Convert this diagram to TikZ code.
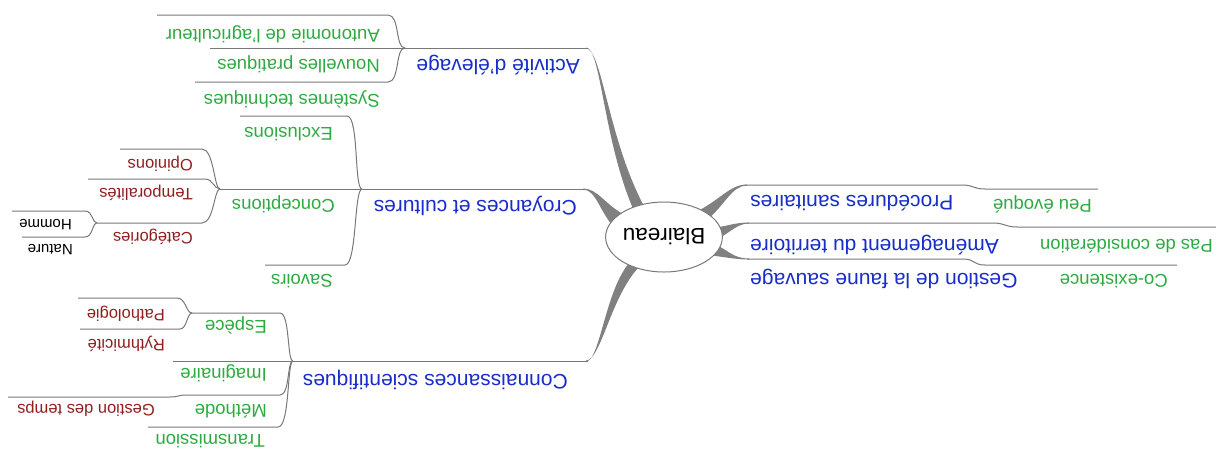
\documentclass[tikz,border=0pt]{standalone}
\usepackage{fontspec}
\setmainfont{Liberation Sans}
\usetikzlibrary{shapes.geometric}
\definecolor{lvA}{RGB}{25,45,200}
\definecolor{lvB}{RGB}{45,170,65}
\definecolor{lvC}{RGB}{145,30,30}
\definecolor{lnc}{RGB}{120,120,120}
\definecolor{tpc}{RGB}{128,128,128}
\begin{document}
\begin{tikzpicture}[x=1pt,y=-1pt,
  ln/.style={draw=lnc, line width=1pt},
  tp/.style={fill=tpc, draw=none},
  tx/.style={inner sep=0pt, rotate=180},
  tA/.style={tx, text=lvA, font=\fontsize{21}{24}\selectfont},
  tB/.style={tx, text=lvB, font=\fontsize{18.5}{22}\selectfont},
  tC/.style={tx, text=lvC, font=\fontsize{16.5}{20}\selectfont},
  tD/.style={tx, text=black, font=\fontsize{15}{18}\selectfont},
  atR/.style={anchor=mid west},
  atL/.style={anchor=mid east},
]
\useasboundingbox (0,0) rectangle (1216,451);

% junctions and taper starts
\coordinate (jA) at (405,48);
\coordinate (jC) at (362,189);
\coordinate (jCo) at (220,189);
\coordinate (jCa) at (97,223);
\coordinate (jK) at (293,361);
\coordinate (jE) at (192,313);
\coordinate (jM) at (185,395);
\coordinate (sA) at (588,48);
\coordinate (sC) at (585,189);
\coordinate (sK) at (588,361);
\coordinate (sP) at (745,185);
\coordinate (sM) at (747,223);
\coordinate (sG) at (747,259);

% tapers
\fill[tp] (586,47.5) .. controls (601,47.5) and (603,140) .. (634,211) -- (645,208) .. controls (608,140) and (602,48.5) .. (586,48.5) -- cycle;
\fill[tp] (583,188.5) .. controls (598,188.5) and (605,205) .. (625,215) -- (617,230) .. controls (600,215) and (597,189.5) .. (583,189.5) -- cycle;
\fill[tp] (586,361.5) .. controls (600,361.5) and (605,290) .. (630,262) -- (640,266) .. controls (611,295) and (601,360.5) .. (586,360.5) -- cycle;
\fill[tp] (747,184.5) .. controls (730,184.5) and (720,200) .. (696,212) -- (706,221) .. controls (725,205) and (732,185.5) .. (747,185.5) -- cycle;
\fill[tp] (749,222.5) .. controls (735,222.5) and (728,226) .. (713,228) -- (712,241) .. controls (728,236) and (735,223.5) .. (749,223.5) -- cycle;
\fill[tp] (749,258.5) .. controls (733,258.5) and (728,250) .. (713,243) -- (707,255) .. controls (726,257) and (735,259.5) .. (749,259.5) -- cycle;

\node[ellipse, draw=lnc, fill=white, line width=1pt, minimum width=106pt, minimum height=70pt, inner sep=0pt, rotate=180, font=\fontsize{22.5}{26}\selectfont] (root) at (664,237) {Blaireau};

% level 1
\node[tA, atR] (act) at (580,62) {Activité d'élevage};
\node[tA, atR] (cro) at (577,203) {Croyances et cultures};
\node[tA, atR] (con) at (568,377) {Connaissances scientifiques};
\node[tA, atL] (pro) at (750,198) {Procédures sanitaires};
\node[tA, atL] (ame) at (750,242) {Aménagement du territoire};
\node[tA, atL] (ges) at (750,276) {Gestion de la faune sauvage};

% level 2
\node[tB, atR] (aut) at (380,32) {Autonomie de l'agriculteur};
\node[tB, atR] (nou) at (380,62) {Nouvelles pratiques};
\node[tB, atR] (sys) at (380,97) {Systèmes techniques};
\node[tB, atR] (exc) at (333,130) {Exclusions};
\node[tB, atR] (cpt) at (335,202) {Conceptions};
\node[tB, atR] (sav) at (333,277) {Savoirs};
\node[tB, atR] (esp) at (267,323) {Espèce};
\node[tB, atR] (ima) at (267,371) {Imaginaire};
\node[tB, atR] (met) at (267,407) {Méthode};
\node[tB, atR] (tra) at (265,437) {Transmission};
\node[tB, atR] (peu) at (1092,202) {Peu évoqué};
\node[tB, atR] (pas) at (1213,242) {Pas de considération};
\node[tB, atR] (coe) at (1168,277) {Co-existence};

% level 3
\node[tC, atR] (opi) at (193,162) {Opinions};
\node[tC, atR] (tem) at (193,191) {Temporalités};
\node[tC, atR] (cat) at (193,235) {Catégories};
\node[tC, atR] (pat) at (165,312) {Pathologie};
\node[tC, atR] (ryt) at (165,342) {Rythmicité};
\node[tC, atR] (gdt) at (155,407) {Gestion des temps};

% level 4
\node[tD, atR] (hom) at (72,222) {Homme};
\node[tD, atR] (nat) at (73,247) {Nature};

% underlines and connectors
\draw[ln] (jA) -- (sA);
\draw[ln] (210,48) -- (jA);
\draw[ln] (157,15) -- (388,15) .. controls +(12,0) and +(-10,0) .. (jA);
\draw[ln] (195,82) -- (388,82) .. controls +(12,0) and +(-10,0) .. (jA);

\draw[ln] (jC) -- (sC);
\draw[ln] (jCo) -- (jC);
\draw[ln] (240,116) -- (347,116) .. controls +(12,0) and +(-8,0) .. (jC);
\draw[ln] (265,265) -- (345,265) .. controls +(12,0) and +(-8,0) .. (jC);
\draw[ln] (120,149) -- (202,149) .. controls +(12,0) and +(-6,0) .. (jCo);
\draw[ln] (88,179) -- (205,179) .. controls +(8,0) and +(-6,0) .. (jCo);
\draw[ln] (jCa) -- (202,223) .. controls +(12,0) and +(-6,0) .. (jCo);
\draw[ln] (12,211) -- (85,211) .. controls +(8,0) and +(-5,0) .. (jCa);
\draw[ln] (22,237) -- (85,237) .. controls +(8,0) and +(-5,0) .. (jCa);

\draw[ln] (jK) -- (sK);
\draw[ln] (173,361) -- (jK);
\draw[ln] (jE) -- (280,313) .. controls +(10,0) and +(-6,0) .. (jK);
\draw[ln] (jM) -- (280,395) .. controls +(10,0) and +(-6,0) .. (jK);
\draw[ln] (148,427) -- (278,427) .. controls +(12,0) and +(-6,0) .. (jK);
\draw[ln] (78,298) -- (177,298) .. controls +(9,0) and +(-6,0) .. (jE);
\draw[ln] (80,329) -- (180,329) .. controls +(7,0) and +(-5,0) .. (jE);
\draw[ln] (8,397) -- (170,397) .. controls +(8,0) and +(-6,0) .. (jM);

\draw[ln] (sP) -- (962,185) .. controls +(12,0) and +(-12,0) .. (985,189) -- (1098,189);
\draw[ln] (sM) -- (993,223) .. controls +(12,0) and +(-12,0) .. (1017,227) -- (1216,227);
\draw[ln] (sG) -- (963,259) .. controls +(12,0) and +(-12,0) .. (985,265) -- (1177,265);
\end{tikzpicture}
\end{document}
